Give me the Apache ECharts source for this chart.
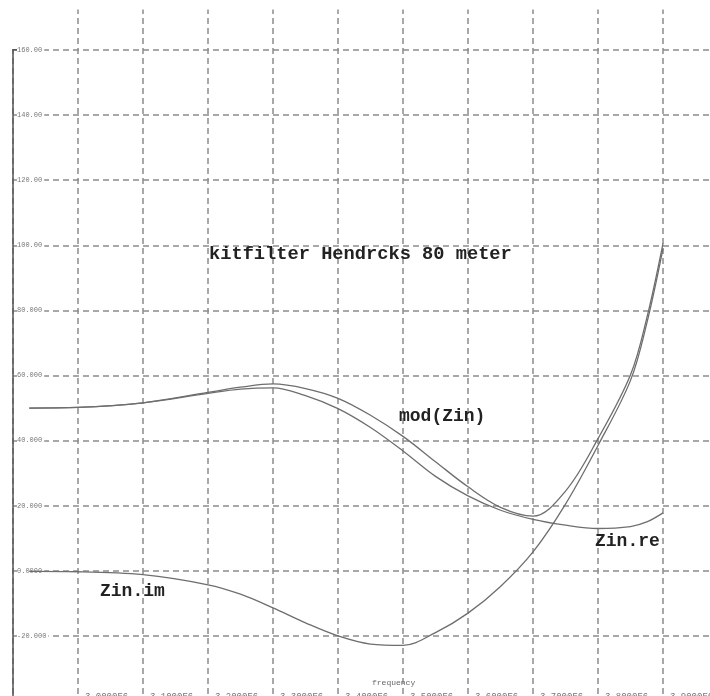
<!DOCTYPE html>
<html>
<head>
<meta charset="utf-8">
<script src="https://cdn.jsdelivr.net/npm/echarts@6/dist/echarts.min.js"></script>
<style>html,body{margin:0;padding:0;background:#fff;overflow:hidden;}#c{width:710px;height:696px;}</style>
</head>
<body>
<div id="c"></div>
<script>
// Frequency (MHz)
const freq   = [2.925, 3.0, 3.1, 3.2, 3.25, 3.3, 3.35, 3.4, 3.45, 3.5, 3.55, 3.6, 3.65, 3.7, 3.75, 3.8, 3.85, 3.875, 3.9];
const zinRe  = [50.0, 50.2, 51.6, 54.5, 55.8, 56.2, 53.8, 49.8, 44.0, 36.8, 29.0, 23.0, 18.6, 15.8, 14.0, 13.0, 13.6, 15.0, 17.8];
const zinIm  = [-0.2, -0.3, -1.2, -4.3, -7.2, -11.4, -16.0, -20.0, -22.5, -22.9, -19.0, -13.0, -4.8, 5.8, 20.5, 38.5, 58.5, 76.0, 99.0];
const modZin = [50.0, 50.2, 51.6, 54.8, 56.4, 57.4, 56.0, 53.0, 47.8, 41.3, 33.5, 25.8, 19.5, 16.8, 24.5, 40.6, 60.2, 77.6, 100.6];

const yTicks      = [-20, 0, 20, 40, 60, 80, 100, 120, 140, 160];
const yTickLabels = ['-20.000', '0.0000', '20.000', '40.000', '60.000', '80.000', '100.00', '120.00', '140.00', '160.00'];
const xTicks      = [3.0, 3.1, 3.2, 3.3, 3.4, 3.5, 3.6, 3.7, 3.8, 3.9];
const xTickLabels = ['3.0000E6', '3.1000E6', '3.2000E6', '3.3000E6', '3.4000E6', '3.5000E6', '3.6000E6', '3.7000E6', '3.8000E6', '3.9000E6'];

const chartTitle = 'kitfilter Hendrcks 80 meter';
const seriesNames = ['mod(Zin)', 'Zin.re', 'Zin.im'];
const xName = 'frequency';

function pairs(ys){ return freq.map((f,i)=>[f, ys[i]]); }
function lookup(ticks, labels, v){
  for (let i=0;i<ticks.length;i++){ if (Math.abs(ticks[i]-v) < 1e-6) return labels[i]; }
  return '';
}

const chart = echarts.init(document.getElementById('c'), null, { width: 710, height: 696 });
const mono = '"Liberation Mono", "DejaVu Sans Mono", monospace';
const lineCol = '#6e6e6e';
const gridLine = { show: true, lineStyle: { color: '#8c8c8c', width: 1.5, type: [6, 4] } };

chart.setOption({
  animation: false,
  backgroundColor: '#fff',
  grid: { left: 13, top: 8, width: 700, height: 693, containLabel: false, outerBoundsMode: 'none' },
  xAxis: {
    type: 'value', min: 2.9, max: 3.9769, interval: 0.1,
    axisLine: { show: false }, axisTick: { show: false },
    splitLine: gridLine,
    axisLabel: {
      inside: true, margin: 0, align: 'left', verticalAlign: 'bottom',
      padding: [0, 0, 0, 7], fontSize: 9, color: '#777', fontFamily: mono,
      formatter: v => lookup(xTicks, xTickLabels, v)
    }
  },
  yAxis: {
    type: 'value', min: -40, max: 172.9, interval: 20,
    axisLine: { show: true, onZero: false, lineStyle: { color: '#555', width: 1.5 } },
    axisTick: { show: false },
    splitLine: gridLine,
    axisLabel: {
      inside: true, margin: 4, fontSize: 7, color: '#777', fontFamily: mono,
      backgroundColor: '#fff', padding: [0, 2, 0, 0],
      formatter: v => lookup(yTicks, yTickLabels, v)
    }
  },
  series: [
    { name: seriesNames[0], type: 'line', data: pairs(modZin), smooth: 0.35, symbol: 'none', lineStyle: { color: lineCol, width: 1.3 } },
    { name: seriesNames[1], type: 'line', data: pairs(zinRe), smooth: 0.35, symbol: 'none', lineStyle: { color: lineCol, width: 1.3 } },
    { name: seriesNames[2], type: 'line', data: pairs(zinIm), smooth: 0.35, symbol: 'none', lineStyle: { color: lineCol, width: 1.3 } }
  ],
  graphic: [
    { type: 'rect', shape: { x: 0, y: 0, width: 710, height: 9.5 }, style: { fill: '#fff' }, z: 100 },
    { type: 'rect', shape: { x: 8, y: 0, width: 9, height: 49 }, style: { fill: '#fff' }, z: 100 },
    { type: 'rect', shape: { x: 13, y: 49, width: 4, height: 1.5 }, style: { fill: '#555' }, z: 101 },
    { type: 'text', x: 209, y: 254, z: 102, style: { text: chartTitle, font: 'bold 18.7px ' + mono, fill: '#222', verticalAlign: 'middle' } },
    { type: 'text', x: 399, y: 416, z: 102, style: { text: seriesNames[0], font: 'bold 18px ' + mono, fill: '#222', verticalAlign: 'middle' } },
    { type: 'text', x: 595, y: 541, z: 102, style: { text: seriesNames[1], font: 'bold 18px ' + mono, fill: '#222', verticalAlign: 'middle' } },
    { type: 'text', x: 100, y: 591, z: 102, style: { text: seriesNames[2], font: 'bold 18px ' + mono, fill: '#222', verticalAlign: 'middle' } },
    { type: 'text', x: 372, y: 683, z: 102, style: { text: xName, font: '8px ' + mono, fill: '#666', verticalAlign: 'middle' } }
  ]
});
</script>
</body>
</html>
